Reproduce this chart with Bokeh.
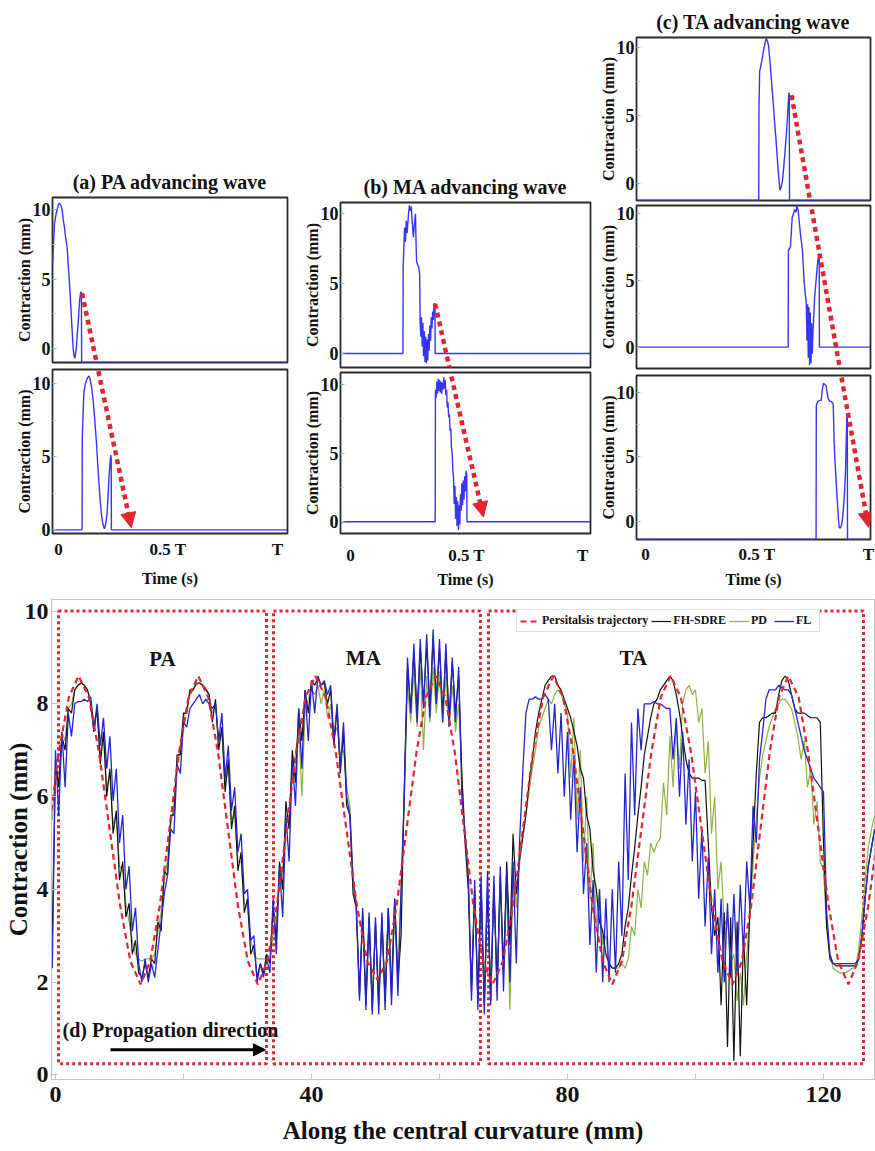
from bokeh.plotting import figure
from bokeh.layouts import column, row
from bokeh.models import Range1d, FixedTicker, Arrow, NormalHead, Legend, LegendItem, Spacer
from bokeh.core.properties import value
from bokeh.embed import file_html
from bokeh.resources import INLINE

# ---------------- data: bottom panel (d) ----------------
pos_mm = [
    -0.5, 0.0, 0.5, 1.0, 1.5, 2.0, 2.5, 3.0, 3.5, 4.0,
    4.5, 5.0, 5.5, 6.0, 6.5, 7.0, 7.5, 8.0, 8.5, 9.0,
    9.5, 10.0, 10.5, 11.0, 11.5, 12.0, 12.5, 13.0, 13.5, 14.0,
    14.5, 15.0, 15.5, 16.0, 16.5, 17.0, 17.5, 18.0, 18.5, 19.0,
    19.5, 20.0, 20.5, 21.0, 21.5, 22.0, 22.5, 23.0, 23.5, 24.0,
    24.5, 25.0, 25.5, 26.0, 26.5, 27.0, 27.5, 28.0, 28.5, 29.0,
    29.5, 30.0, 30.5, 31.0, 31.5, 32.0, 32.5, 33.0, 33.5, 34.0,
    34.5, 35.0, 35.5, 36.0, 36.5, 37.0, 37.5, 38.0, 38.5, 39.0,
    39.5, 40.0, 40.5, 41.0, 41.5, 42.0, 42.5, 43.0, 43.5, 44.0,
    44.5, 45.0, 45.5, 46.0, 46.5, 47.0, 47.5, 48.0, 48.5, 49.0,
    49.5, 50.0, 50.5, 51.0, 51.5, 52.0, 52.5, 53.0, 53.5, 54.0,
    54.5, 55.0, 55.5, 56.0, 56.5, 57.0, 57.5, 58.0, 58.5, 59.0,
    59.5, 60.0, 60.5, 61.0, 61.5, 62.0, 62.5, 63.0, 63.5, 64.0,
    64.5, 65.0, 65.5, 66.0, 66.5, 67.0, 67.5, 68.0, 68.5, 69.0,
    69.5, 70.0, 70.5, 71.0, 71.5, 72.0, 72.5, 73.0, 73.5, 74.0,
    74.5, 75.0, 75.5, 76.0, 76.5, 77.0, 77.5, 78.0, 78.5, 79.0,
    79.5, 80.0, 80.5, 81.0, 81.5, 82.0, 82.5, 83.0, 83.5, 84.0,
    84.5, 85.0, 85.5, 86.0, 86.5, 87.0, 87.5, 88.0, 88.5, 89.0,
    89.5, 90.0, 90.5, 91.0, 91.5, 92.0, 92.5, 93.0, 93.5, 94.0,
    94.5, 95.0, 95.5, 96.0, 96.5, 97.0, 97.5, 98.0, 98.5, 99.0,
    99.5, 100.0, 100.5, 101.0, 101.5, 102.0, 102.5, 103.0, 103.5, 104.0,
    104.5, 105.0, 105.5, 106.0, 106.5, 107.0, 107.5, 108.0, 108.5, 109.0,
    109.5, 110.0, 110.5, 111.0, 111.5, 112.0, 112.5, 113.0, 113.5, 114.0,
    114.5, 115.0, 115.5, 116.0, 116.5, 117.0, 117.5, 118.0, 118.5, 119.0,
    119.5, 120.0, 120.5, 121.0, 121.5, 122.0, 122.5, 123.0, 123.5, 124.0,
    124.5, 125.0, 125.5, 126.0, 126.5, 127.0, 127.5, 128.0,
]

fl_y = [
    2.3, 7.0, 5.6, 7.4, 6.2, 7.8, 7.3, 8.0, 8.05, 8.05,
    8.1, 8.05, 8.15, 7.4, 8.0, 7.1, 7.7, 6.6, 7.3, 5.9,
    6.6, 5.0, 5.6, 4.0, 4.5, 3.1, 3.6, 2.4, 2.0, 2.5,
    2.0, 2.4, 2.1, 2.7, 3.3, 3.9, 4.3, 5.3, 5.2, 6.7,
    6.5, 7.6, 7.5, 7.9, 8.0, 8.1, 8.2, 8.0, 8.1, 8.0,
    7.9, 8.0, 7.2, 7.8, 6.4, 7.1, 5.7, 6.2, 4.8, 5.2,
    3.9, 4.0, 2.9, 3.0, 2.0, 2.4, 2.1, 2.5, 2.2, 3.8,
    2.6, 4.5, 3.4, 5.6, 4.6, 6.8, 5.8, 7.9, 6.6, 8.3,
    7.2, 8.5, 7.8, 8.6, 8.4, 8.5, 8.2, 8.4, 7.2, 8.0,
    6.6, 7.6, 6.0, 5.6, 4.2, 3.7, 1.6, 3.6, 1.4, 3.5,
    1.3, 3.4, 1.3, 3.5, 1.4, 3.6, 1.5, 3.8, 1.7, 4.0,
    6.0, 9.0, 7.8, 9.3, 7.6, 9.4, 7.9, 9.5, 7.7, 9.6,
    8.0, 9.4, 7.6, 9.3, 7.5, 9.0, 7.6, 8.8, 6.0, 5.2,
    4.3, 1.6, 4.2, 1.4, 4.3, 1.3, 4.4, 1.5, 4.3, 1.6,
    4.5, 1.8, 4.4, 2.0, 4.6, 2.4, 5.0, 6.5, 7.8, 8.1,
    8.1, 8.15, 8.1, 8.1, 8.2, 8.1, 7.0, 8.0, 6.5, 7.8,
    6.0, 7.4, 5.5, 6.9, 4.8, 6.2, 3.9, 5.0, 2.8, 4.2,
    2.2, 4.0, 2.0, 3.8, 2.0, 4.0, 2.2, 4.6, 3.0, 6.5,
    4.2, 7.6, 5.6, 7.9, 7.0, 8.0, 8.0, 8.0, 8.05, 8.0,
    8.0, 7.95, 7.9, 7.9, 6.8, 7.7, 6.0, 7.4, 5.4, 6.8,
    4.6, 6.1, 3.8, 5.3, 3.2, 4.7, 2.6, 4.0, 2.2, 3.8,
    2.0, 3.7, 2.1, 3.9, 2.2, 4.1, 2.6, 4.6, 3.6, 5.8,
    5.0, 6.8, 7.4, 8.1, 8.3, 8.3, 8.3, 8.4, 8.35, 8.3,
    8.3, 8.2, 7.9, 7.6, 7.3, 7.0, 6.8, 6.6, 6.4, 6.3,
    6.2, 6.1, 3.5, 2.6, 2.4, 2.4, 2.4, 2.4, 2.4, 2.4,
    2.4, 2.4, 2.5, 3.0, 3.8, 4.5, 4.9, 5.3,
]

fhsdre_y = [
    3.0, 6.8, 6.2, 7.3, 7.0, 7.9, 7.8, 8.3, 8.4, 8.45,
    8.4, 8.3, 8.0, 7.4, 7.9, 6.7, 7.4, 6.0, 6.6, 5.2,
    5.7, 4.2, 4.6, 3.4, 3.7, 2.6, 2.9, 2.2, 2.1, 2.4,
    2.1, 2.5, 2.4, 3.3, 3.1, 4.4, 4.3, 5.6, 5.6, 6.9,
    6.9, 7.8, 7.8, 8.3, 8.3, 8.45, 8.45, 8.4, 8.3, 8.2,
    7.6, 8.1, 7.0, 7.5, 6.1, 6.8, 5.3, 5.8, 4.4, 4.8,
    3.5, 3.8, 2.6, 2.8, 2.1, 2.4, 2.2, 2.6, 2.4, 3.6,
    2.9, 4.6, 4.0, 5.9, 5.3, 7.0, 6.3, 7.9, 7.2, 8.3,
    7.8, 8.5, 8.4, 8.55, 8.4, 8.45, 8.0, 8.3, 7.1, 7.9,
    6.5, 7.4, 5.8, 5.6, 3.9, 3.6, 1.7, 3.5, 1.5, 3.4,
    1.4, 3.3, 1.5, 3.4, 1.6, 3.6, 1.7, 3.8, 2.0, 3.0,
    6.2, 8.8, 7.9, 9.1, 7.8, 9.2, 8.0, 9.3, 7.9, 9.4,
    8.1, 9.2, 7.8, 9.1, 7.7, 8.9, 7.8, 8.6, 6.4, 5.0,
    4.0, 1.8, 4.0, 1.6, 4.1, 1.5, 4.0, 1.6, 4.1, 1.9,
    4.3, 2.2, 4.6, 2.8, 5.2, 3.9, 4.6, 5.1, 5.6, 6.3,
    6.8, 7.4, 7.8, 8.1, 8.4, 8.5, 8.6, 8.6, 8.4, 8.3,
    8.1, 7.9, 7.7, 7.4, 7.1, 6.6, 6.4, 5.6, 5.3, 4.4,
    4.0, 3.3, 3.1, 2.6, 2.4, 2.3, 2.3, 2.4, 2.6, 3.2,
    3.6, 4.3, 4.9, 5.6, 6.2, 6.9, 7.3, 7.7, 8.0, 8.1,
    8.3, 8.4, 8.5, 8.6, 8.5, 8.2, 7.8, 7.3, 6.8, 6.5,
    6.4, 6.4, 6.4, 6.35, 6.35, 5.0, 3.6, 3.0, 3.4, 1.5,
    3.5, 0.6, 3.4, 0.3, 3.3, 0.4, 3.0, 1.5, 3.6, 5.0,
    6.5, 7.6, 7.7, 7.7, 7.75, 7.8, 7.8, 8.2, 8.5, 8.6,
    8.5, 8.2, 7.9, 7.8, 7.8, 7.8, 7.75, 7.7, 7.7, 7.7,
    7.6, 5.0, 3.2, 2.5, 2.4, 2.35, 2.35, 2.35, 2.35, 2.35,
    2.35, 2.35, 2.5, 3.0, 3.8, 4.5, 4.9, 5.3,
]

pd_y = [
    5.5, 6.6, 6.3, 7.4, 7.2, 7.9, 8.0, 8.3, 8.4, 8.45,
    8.4, 8.3, 8.1, 7.6, 7.9, 6.9, 7.3, 6.2, 6.5, 5.4,
    5.6, 4.5, 4.4, 3.7, 3.3, 2.9, 2.6, 2.5, 2.45, 2.5,
    2.5, 2.5, 2.6, 3.1, 3.5, 4.2, 4.6, 5.4, 5.8, 6.7,
    7.1, 7.7, 7.9, 8.2, 8.3, 8.4, 8.45, 8.4, 8.35, 8.2,
    7.8, 8.0, 7.2, 7.4, 6.3, 6.6, 5.5, 5.6, 4.6, 4.6,
    3.7, 3.6, 2.9, 2.6, 2.5, 2.5, 2.5, 2.5, 2.5, 3.0,
    3.3, 4.2, 4.4, 5.5, 5.6, 6.6, 6.9, 7.5, 6.0, 7.9,
    8.1, 8.3, 8.2, 8.4, 8.0, 8.3, 7.7, 8.0, 7.3, 7.5,
    6.9, 7.0, 6.2, 5.8, 4.2, 3.5, 1.9, 3.4, 1.7, 3.3,
    1.6, 3.2, 1.7, 3.3, 1.8, 3.5, 2.0, 3.7, 2.3, 4.0,
    6.0, 8.4, 7.6, 8.7, 7.5, 8.8, 7.0, 8.6, 7.6, 8.8,
    7.8, 8.7, 7.6, 8.6, 7.5, 8.4, 7.4, 8.0, 6.5, 5.2,
    4.2, 2.0, 3.9, 1.8, 4.0, 1.7, 3.9, 1.9, 4.0, 2.0,
    4.1, 2.4, 4.2, 1.4, 4.4, 3.6, 4.8, 5.2, 5.6, 6.1,
    6.6, 7.0, 7.5, 7.7, 7.9, 8.1, 8.0, 8.2, 8.3, 8.2,
    8.0, 7.8, 6.4, 7.7, 5.5, 7.0, 4.6, 6.0, 3.8, 5.0,
    3.2, 4.0, 2.8, 3.0, 2.4, 2.3, 2.3, 2.3, 2.4, 2.3,
    2.5, 3.2, 3.0, 4.0, 3.6, 4.6, 4.3, 5.0, 4.8, 5.0,
    5.1, 6.3, 5.6, 7.3, 6.2, 7.6, 6.6, 8.0, 8.3, 8.4,
    8.2, 8.3, 7.6, 7.9, 6.5, 7.2, 5.2, 6.0, 4.0, 4.6,
    3.2, 3.4, 2.4, 2.6, 1.6, 2.2, 1.5, 2.6, 3.4, 4.6,
    5.5, 6.4, 6.9, 7.2, 7.5, 7.7, 7.9, 8.0, 8.1, 8.1,
    8.0, 7.9, 7.6, 7.3, 6.8, 7.2, 6.2, 6.6, 5.4, 5.9,
    4.6, 4.4, 3.2, 2.6, 2.3, 2.25, 2.2, 2.2, 2.2, 2.25,
    2.3, 2.3, 2.7, 3.4, 4.2, 4.9, 5.3, 5.6,
]

traj_x = [
    -0.6, 0.5, 2.1, 3.6,
    5.2, 6.8, 8.45, 10.1, 11.7, 13.3,
    14.8, 16.3, 17.8, 19.3, 20.8, 22.3,
    23.85, 25.4, 26.95, 28.5, 30.05, 31.6,
    33.1, 34.6, 36.1, 37.6, 39.1, 40.6,
    42.2, 43.8, 45.45, 47.1, 48.7, 50.3,
    51.8, 53.3, 54.85, 56.4, 57.9, 59.4,
    60.9, 62.4, 63.85, 65.3, 66.8, 68.3,
    69.9, 71.5, 73.05, 74.6, 76.2, 77.8,
    79.3, 80.9, 82.4, 83.9, 85.5, 87.0,
    88.5, 90.0, 91.55, 93.1, 94.6, 96.1,
    97.7, 99.3, 100.95, 102.6, 104.2, 105.8,
    107.25, 108.7, 110.15, 111.6, 113.05, 114.5,
    116.1, 117.6, 119.2, 120.8, 122.3, 123.9,
    125.4, 127.0, 128.6,
]
traj_y = [
    5.7, 6.95, 8.15, 8.6,
    8.15, 6.95, 5.3, 3.65, 2.45, 1.95,
    2.45, 3.65, 5.3, 6.95, 8.15, 8.6,
    8.15, 6.95, 5.3, 3.65, 2.45, 1.95,
    2.45, 3.65, 5.3, 6.95, 8.15, 8.6,
    8.15, 6.95, 5.3, 3.65, 2.45, 2.05,
    2.45, 3.65, 5.3, 6.95, 8.15, 8.6,
    8.15, 6.95, 5.3, 3.65, 2.45, 1.95,
    2.45, 3.65, 5.3, 6.95, 8.15, 8.6,
    8.15, 6.95, 5.3, 3.65, 2.45, 1.95,
    2.45, 3.65, 5.3, 6.95, 8.15, 8.6,
    8.15, 6.95, 5.3, 3.65, 2.45, 1.95,
    2.45, 3.65, 5.3, 6.95, 8.15, 8.6,
    8.15, 6.95, 5.3, 3.65, 2.45, 1.95,
    2.45, 3.65, 5.3,
]

region_names = ["PA", "MA", "TA"]
region_left = [0.47, 34.06, 67.66]
region_right = [32.97, 66.4, 126.25]
region_bottom = [0.24, 0.24, 0.24]
region_top = [10.0, 10.0, 10.0]
region_label_x = [16.7, 48.1, 90.3]
region_label_y = [8.97, 8.99, 8.99]

bottom_x_ticks = [0, 20, 40, 60, 80, 100, 120]
bottom_x_labels = {0: "0", 20: "", 40: "40", 60: "", 80: "80", 100: "", 120: "120"}
bottom_y_ticks = [0, 2, 4, 6, 8, 10]

prop_text = "(d) Propagation direction"
prop_arrow_x = [8.6, 32.8]
prop_arrow_y = 0.54

# ---------------- data: advancing-wave panels (a)-(c) ----------------
time_ticks = [0, 0.5, 1]
time_labels = {0: "0", 0.5: "0.5 T", 1: "T"}
contraction_ticks = [0, 5, 10]

pa1_t = [-0.027, -0.022, -0.018, -0.012, -0.006, 0.0, 0.006, 0.012, 0.017, 0.022, 0.027, 0.033,
         0.04, 0.045, 0.05, 0.055, 0.059, 0.063, 0.067, 0.071, 0.075, 0.079, 0.082, 0.086,
         0.09, 0.094, 0.097, 0.102, 0.105, 0.106, 1.046]
pa1_y = [6.2, 7.6, 9.0, 9.6, 10.0, 10.4, 10.5, 10.3, 10.0, 9.3, 8.8, 8.0,
         7.3, 6.0, 4.9, 3.5, 2.3, 1.2, 0.1, -0.5, -0.7, -0.3, 0.1, 1.0,
         1.8, 2.8, 3.5, 4.1, 4.0, -1.0, -1.0]

pa2_t = [-0.027, 0.108, 0.109, 0.116, 0.122, 0.128, 0.134, 0.14, 0.146, 0.152, 0.158, 0.164,
         0.169, 0.174, 0.179, 0.184, 0.19, 0.196, 0.203, 0.21, 0.216, 0.222, 0.227, 0.231,
         0.235, 0.239, 0.241, 0.242, 1.046]
pa2_y = [0.0, 0.0, 6.3, 9.3, 9.9, 10.2, 10.4, 10.5, 10.2, 9.7, 8.9, 7.9,
         6.9, 5.9, 4.6, 3.4, 2.2, 1.1, 0.4, 0.07, 0.4, 1.1, 2.4, 3.6,
         4.4, 5.1, 4.9, 0.0, 0.0]

ma1_t = [-0.043, 0.226, 0.227, 0.233, 0.237, 0.24, 0.244, 0.247, 0.25, 0.254, 0.258, 0.262,
         0.266, 0.271, 0.275, 0.28, 0.283, 0.285, 0.29, 0.294, 0.298, 0.3, 0.303, 0.306,
         0.309, 0.312, 0.315, 0.318, 0.321, 0.324, 0.327, 0.33, 0.333, 0.336, 0.339, 0.342,
         0.345, 0.348, 0.351, 0.354, 0.357, 0.36, 0.362, 0.364, 0.365, 1.034]
ma1_y = [0.0, 0.0, 6.2, 9.0, 8.0, 9.5, 8.6, 9.3, 10.0, 10.6, 10.2, 10.5,
         9.4, 8.3, 9.2, 10.0, 7.5, 6.6, 6.3, 6.2, 5.7, 2.4, 1.2, 2.6,
         0.5, 2.2, -0.2, 1.6, -0.6, 1.2, -0.7, 1.0, -0.5, 1.4, 0.2, 2.0,
         0.9, 2.6, 1.8, 3.0, 2.4, 3.6, 3.2, 3.6, 0.0, 0.0]

ma2_t = [-0.043, 0.365, 0.366, 0.369, 0.372, 0.375, 0.378, 0.381, 0.384, 0.387, 0.39, 0.393,
         0.396, 0.399, 0.402, 0.405, 0.408, 0.411, 0.414, 0.417, 0.42, 0.423, 0.426, 0.429,
         0.432, 0.435, 0.438, 0.441, 0.444, 0.447, 0.45, 0.453, 0.456, 0.459, 0.462, 0.465,
         0.468, 0.471, 0.474, 0.477, 0.48, 0.483, 0.486, 0.489, 0.492, 0.495, 0.498, 0.501,
         0.502, 1.034]
ma2_y = [0.0, 0.0, 9.6, 9.0, 10.2, 9.3, 10.4, 9.5, 10.3, 9.4, 10.2, 9.3,
         10.1, 9.6, 10.5, 9.7, 10.3, 9.2, 9.6, 8.3, 8.7, 7.6, 7.8, 6.6,
         6.8, 5.4, 5.0, 3.7, 3.2, 1.3, 2.6, 0.2, 1.8, -0.3, 1.5, -0.6,
         1.2, -0.2, 2.0, 0.8, 2.8, 1.2, 3.0, 1.6, 3.3, 2.2, 3.7, 3.4,
         0.0, 0.0]

ta1_t = [-0.04, 0.508, 0.509, 0.512, 0.522, 0.53, 0.54, 0.546, 0.552, 0.557, 0.562, 0.568,
         0.574, 0.579, 0.584, 0.589, 0.593, 0.598, 0.603, 0.608, 0.614, 0.62, 0.625, 0.631,
         0.636, 0.643, 0.645, 0.646, 1.02]
ta1_y = [-1.25, -1.25, 5.4, 8.2, 9.0, 9.8, 10.6, 10.5, 10.1, 9.2, 8.2, 6.9,
         5.7, 4.5, 3.5, 2.4, 1.4, 0.4, -0.5, -0.3, 0.15, 1.2, 2.2, 3.4,
         4.6, 6.65, 6.5, -1.25, -1.25]

ta2_t = [-0.04, 0.64, 0.641, 0.65, 0.658, 0.664, 0.669, 0.675, 0.68, 0.685, 0.689, 0.696,
         0.7, 0.704, 0.708, 0.711, 0.716, 0.721, 0.724, 0.727, 0.73, 0.733, 0.736, 0.739,
         0.742, 0.745, 0.748, 0.751, 0.755, 0.758, 0.764, 0.769, 0.774, 0.777, 0.779, 0.78,
         1.02]
ta2_y = [0.0, 0.0, 7.2, 7.5, 9.7, 10.0, 10.3, 10.1, 10.6, 10.2, 9.5, 8.3,
         7.8, 7.2, 6.0, 5.0, 4.0, 3.4, 0.5, 3.2, -0.8, 3.0, -1.35, 2.6,
         -1.2, 1.8, -0.5, 1.1, 2.4, 3.6, 4.8, 5.8, 6.6, 7.0, 6.9, 0.0,
         0.0]

ta3_t = [-0.04, 0.765, 0.766, 0.773, 0.78, 0.788, 0.793, 0.798, 0.804, 0.81, 0.815, 0.82,
         0.826, 0.832, 0.84, 0.842, 0.846, 0.85, 0.854, 0.858, 0.862, 0.866, 0.869, 0.874,
         0.879, 0.884, 0.888, 0.893, 0.897, 0.9, 0.903, 0.905, 0.906, 1.02]
ta3_y = [-1.4, -1.4, 9.0, 9.3, 9.35, 9.4, 10.2, 10.7, 10.6, 10.5, 9.9, 9.5,
         9.3, 9.3, 9.15, 9.0, 6.2, 4.6, 3.4, 2.2, 1.1, 0.0, -0.5, -0.5,
         -0.3, 0.3, 1.1, 2.4, 3.9, 6.0, 8.2, 8.0, -1.4, -1.4]

# red dotted "advancing" arrows: (t, contraction) of start and end inside each panel
pa1_arrow = [0.108, 3.99, 0.181, -1.51]
pa2_arrow = [0.174, 11.44, 0.333, 0.14]
ma1_arrow = [0.365, 3.55, 0.431, -1.36]
ma2_arrow = [0.426, 11.2, 0.573, 0.35]
ta1_arrow = [0.655, 6.47, 0.742, -1.62]
ta2_arrow = [0.7385, 10.98, 0.878, -2.18]
ta3_arrow = [0.872, 11.83, 1.0, -0.46]

# ---------------- styling ----------------
SERIF = "Liberation Serif"
INK = "#111111"
RED = "#e3262e"
SUB_BLUE = "#3636f2"
FL_BLUE = "#2525cc"
PD_GREEN = "#8db343"
FH_BLACK = "#111111"


def panel(width, height, xr, yr, borders, t, y, arrow, head=False, title=None,
          time_std=None):
    bl, br, bt, bb = borders
    p = figure(width=width, height=height, x_range=Range1d(*xr), y_range=Range1d(*yr),
               output_backend="svg", toolbar_location=None, title=title,
               min_border_left=bl, min_border_right=br, min_border_top=bt, min_border_bottom=bb)
    if title is not None:
        p.title.text_font = SERIF
        p.title.text_font_style = "bold"
        p.title.text_font_size = "20px"
        p.title.text_color = INK
        p.title.align = "center"
    p.grid.visible = False
    p.outline_line_color = "#2b2b2b"
    p.outline_line_width = 1.8
    ya = p.yaxis[0]
    ya.ticker = FixedTicker(ticks=contraction_ticks, minor_ticks=[2.5, 7.5])
    ya.axis_label = "Contraction (mm)"
    ya.axis_label_text_font = SERIF
    ya.axis_label_text_font_style = "bold"
    ya.axis_label_text_font_size = "16px"
    ya.axis_label_text_color = INK
    ya.axis_label_standoff = -3
    ya.major_label_text_font = SERIF
    ya.major_label_text_font_style = "bold"
    ya.major_label_text_font_size = "18px"
    ya.major_label_text_color = INK
    ya.major_label_standoff = 2
    ya.axis_line_color = None
    ya.major_tick_in = 4
    ya.major_tick_out = 0
    ya.minor_tick_in = 3
    ya.minor_tick_out = 0
    ya.major_tick_line_color = "#aaaaaa"
    ya.minor_tick_line_color = "#cccccc"
    xa = p.xaxis[0]
    if time_std is not None:
        xa.ticker = FixedTicker(ticks=time_ticks)
        xa.major_label_overrides = time_labels
        xa.axis_label = "Time (s)"
        xa.axis_label_text_font = SERIF
        xa.axis_label_text_font_style = "bold"
        xa.axis_label_text_font_size = "16px"
        xa.axis_label_text_color = INK
        xa.major_label_text_font = SERIF
        xa.major_label_text_font_style = "bold"
        xa.major_label_text_font_size = "17px"
        xa.major_label_text_color = INK
        xa.major_label_standoff = time_std[0]
        xa.axis_label_standoff = time_std[1]
        xa.axis_line_color = None
        xa.major_tick_in = 0
        xa.major_tick_out = 0
        xa.minor_tick_in = 0
        xa.minor_tick_out = 0
    else:
        xa.visible = False
    p.line(x=t, y=y, line_color=SUB_BLUE, line_width=1.4)
    end = NormalHead(size=15, fill_color=RED, line_color=RED, line_width=1) if head else None
    p.add_layout(Arrow(x_start=arrow[0], y_start=arrow[1], x_end=arrow[2], y_end=arrow[3],
                       start=None, end=end, line_color=RED, line_width=4.5, line_dash="5 4"))
    return p


XA = (-0.027, 1.046)
XB = (-0.043, 1.034)
XC = (-0.04, 1.009)

a1 = panel(300, 216, XA, (-1.0, 10.9), (52, 13, 47, 4), pa1_t, pa1_y, pa1_arrow,
           title="(a) PA advancing wave")
a2 = panel(300, 224, XA, (-0.25, 10.95), (52, 13, 3, 57), pa2_t, pa2_y, pa2_arrow,
           head=True, time_std=(6, 8))
b1 = panel(296, 219, XB, (-1.0, 10.8), (37, 6, 52, 2), ma1_t, ma1_y, ma1_arrow,
           title="(b) MA advancing wave")
b2 = panel(296, 221, XB, (-0.85, 10.85), (37, 6, 3, 53), ma2_t, ma2_y, ma2_arrow,
           head=True, time_std=(12, 3))
c1 = panel(279, 202, XC, (-1.25, 10.7), (37, 5, 37, 2), ta1_t, ta1_y, ta1_arrow,
           title="(c) TA advancing wave")
c2 = panel(279, 169, XC, (-1.6, 10.6), (37, 5, 3, 3), ta2_t, ta2_y, ta2_arrow)
c3 = panel(279, 219, XC, (-1.4, 11.3), (37, 5, 4, 49), ta3_t, ta3_y, ta3_arrow,
           head=True, time_std=(5, 4))

# ---------------- bottom panel ----------------
bp = figure(width=875, height=561, x_range=Range1d(-0.625, 127.97), y_range=Range1d(-0.1, 10.25),
            output_backend="svg", toolbar_location=None,
            min_border_left=51, min_border_right=1, min_border_top=9, min_border_bottom=72)
bp.grid.visible = False
bp.outline_line_color = "#c4c4c4"
bp.outline_line_width = 1.2

bx = bp.xaxis[0]
bx.ticker = FixedTicker(ticks=bottom_x_ticks)
bx.major_label_overrides = bottom_x_labels
bx.axis_label = "Along the central curvature (mm)"
by = bp.yaxis[0]
by.ticker = FixedTicker(ticks=bottom_y_ticks)
by.axis_label = "Contraction (mm)"
for ax in (bx, by):
    ax.axis_label_text_font = SERIF
    ax.axis_label_text_font_style = "bold"
    ax.axis_label_text_font_size = "25px"
    ax.axis_label_text_color = INK
    ax.major_label_text_font = SERIF
    ax.major_label_text_font_style = "bold"
    ax.major_label_text_font_size = "24px"
    ax.major_label_text_color = INK
    ax.axis_line_color = "#c4c4c4"
    ax.major_tick_in = 6
    ax.major_tick_out = 0
    ax.minor_tick_in = 0
    ax.minor_tick_out = 0
    ax.major_tick_line_color = "#c4c4c4"
bx.major_label_standoff = 7
bx.axis_label_standoff = 12
by.major_label_standoff = 3
by.axis_label_standoff = -10

bp.quad(left=region_left, right=region_right, bottom=region_bottom, top=region_top,
        fill_color=None, line_color=RED, line_width=3, line_dash="3 3")

r_pd = bp.line(x=pos_mm, y=pd_y, line_color=PD_GREEN, line_width=1.2)
r_fh = bp.line(x=pos_mm, y=fhsdre_y, line_color=FH_BLACK, line_width=1.2)
r_fl = bp.line(x=pos_mm, y=fl_y, line_color=FL_BLUE, line_width=1.3)
r_tr = bp.line(x=traj_x, y=traj_y, line_color=RED, line_width=2.2, line_dash="6 4")

bp.text(x=region_label_x, y=region_label_y, text=region_names, text_font=value(SERIF),
        text_font_style="bold", text_font_size="21px", text_align="center",
        text_baseline="middle", text_color=INK)
bp.text(x=[1.1], y=[0.97], text=[prop_text], text_font=value(SERIF),
        text_font_style="bold", text_font_size="20px", text_align="left",
        text_baseline="middle", text_color=INK)
bp.add_layout(Arrow(x_start=prop_arrow_x[0], y_start=prop_arrow_y, x_end=prop_arrow_x[1],
                    y_end=prop_arrow_y, line_color="black", line_width=3,
                    end=NormalHead(size=12, fill_color="black", line_color="black")))

legend = Legend(items=[LegendItem(label="Persitalsis trajectory", renderers=[r_tr]),
                       LegendItem(label="FH-SDRE", renderers=[r_fh]),
                       LegendItem(label="PD", renderers=[r_pd]),
                       LegendItem(label="FL", renderers=[r_fl])],
                orientation="horizontal", location=(465, 447),
                label_text_font=SERIF, label_text_font_style="bold", label_text_font_size="12px",
                label_text_color=INK,
                glyph_width=20, glyph_height=10, label_standoff=2, spacing=3, padding=3,
                margin=0, label_height=12, border_line_color="#bdbdbd",
                background_fill_color="white", background_fill_alpha=1.0)
bp.add_layout(legend)

colA = column(Spacer(width=300, height=150), a1, a2)
colB = column(Spacer(width=296, height=150), b1, b2)
colC = column(c1, c2, c3)
layout = column(row(colA, colB, colC), bp)

open("out.html", "w").write(file_html(layout, INLINE))
